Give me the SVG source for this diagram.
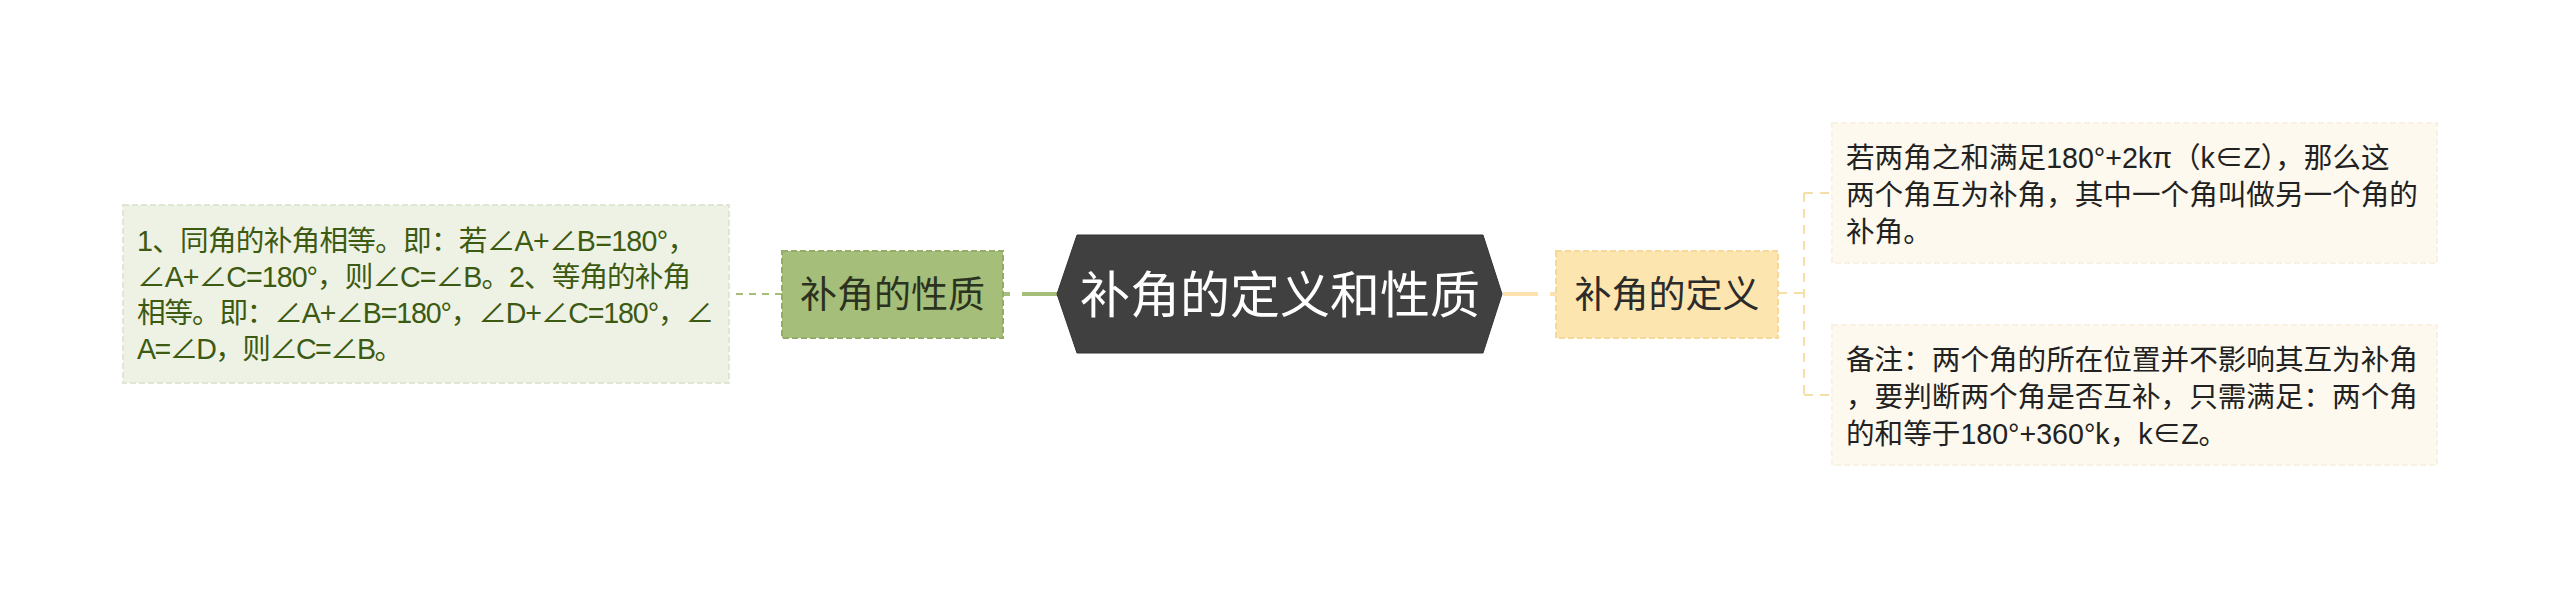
<svg xmlns="http://www.w3.org/2000/svg" width="2560" height="589" viewBox="0 0 2560 589">
<style>
.body{font-family:"Liberation Sans","Noto Sans CJK SC",sans-serif;font-size:28.6px}
.title{font-family:"Noto Sans CJK SC",sans-serif;text-anchor:middle}
.conn{fill:none}
</style>
<rect width="2560" height="589" fill="#ffffff"/>
<g id="connectors">
  <path class="conn" d="M1057,294 H1003" stroke="#a5be7a" stroke-width="4" stroke-dasharray="35 12"/>
  <path class="conn" d="M1503,294 H1556" stroke="#fbe2ae" stroke-width="4" stroke-dasharray="35 12"/>
  <path class="conn" d="M782,294 H729" stroke="#a5be7a" stroke-width="2" stroke-dasharray="7 6"/>
  <path class="conn" d="M1778,293 H1804 M1804,193 V395 M1804,193 H1832 M1804,395 H1832" stroke="#f5dfa8" stroke-width="2" stroke-dasharray="9 7"/>
</g>
<g id="node-left-text">
  <rect x="123" y="205" width="606" height="178" fill="#eef2e5" stroke="#dfe6d1" stroke-width="2" stroke-dasharray="6 3"/>
  <text class="body" fill="#3d5a12">
    <tspan x="137" y="250.5" textLength="559" lengthAdjust="spacing">1、同角的补角相等。即：若∠A+∠B=180°，</tspan>
    <tspan x="137" y="286.5" textLength="554" lengthAdjust="spacing">∠A+∠C=180°，则∠C=∠B。2、等角的补角</tspan>
    <tspan x="137" y="322.5" textLength="577" lengthAdjust="spacing">相等。即：∠A+∠B=180°，∠D+∠C=180°，∠</tspan>
    <tspan x="137" y="358.5" textLength="266" lengthAdjust="spacing">A=∠D，则∠C=∠B。</tspan>
  </text>
</g>
<g id="node-xingzhi">
  <rect x="782" y="251" width="221" height="87" fill="#a5be7a" stroke="#93ad68" stroke-width="2" stroke-dasharray="6 3"/>
  <text class="title" x="892.5" y="308" font-size="37" fill="#2b3320">补角的性质</text>
</g>
<g id="node-root">
  <polygon points="1057,294 1077,235 1483,235 1502,294 1483,353 1077,353" fill="#404040" stroke="#333333" stroke-width="1"/>
  <text class="title" x="1280" y="313" font-size="50" fill="#ffffff">补角的定义和性质</text>
</g>
<g id="node-dingyi">
  <rect x="1556" y="251" width="222" height="87" fill="#fde5b0" stroke="#f6d898" stroke-width="2" stroke-dasharray="6 3"/>
  <text class="title" x="1667" y="308" font-size="37" fill="#2b2b2b">补角的定义</text>
</g>
<g id="node-right-text-1">
  <rect x="1832" y="123" width="605" height="140" fill="#fdf9ee" stroke="#f9f2e2" stroke-width="2" stroke-dasharray="6 3"/>
  <text class="body" fill="#222222">
    <tspan x="1846" y="168">若两角之和满足180°+2kπ（k∈Z），那么这</tspan>
    <tspan x="1846" y="205">两个角互为补角，其中一个角叫做另一个角的</tspan>
    <tspan x="1846" y="242">补角。</tspan>
  </text>
</g>
<g id="node-right-text-2">
  <rect x="1832" y="325" width="605" height="140" fill="#fdf9ee" stroke="#f9f2e2" stroke-width="2" stroke-dasharray="6 3"/>
  <text class="body" fill="#222222">
    <tspan x="1846" y="370">备注：两个角的所在位置并不影响其互为补角</tspan>
    <tspan x="1846" y="407">，要判断两个角是否互补，只需满足：两个角</tspan>
    <tspan x="1846" y="444">的和等于180°+360°k，k∈Z。</tspan>
  </text>
</g>
</svg>
